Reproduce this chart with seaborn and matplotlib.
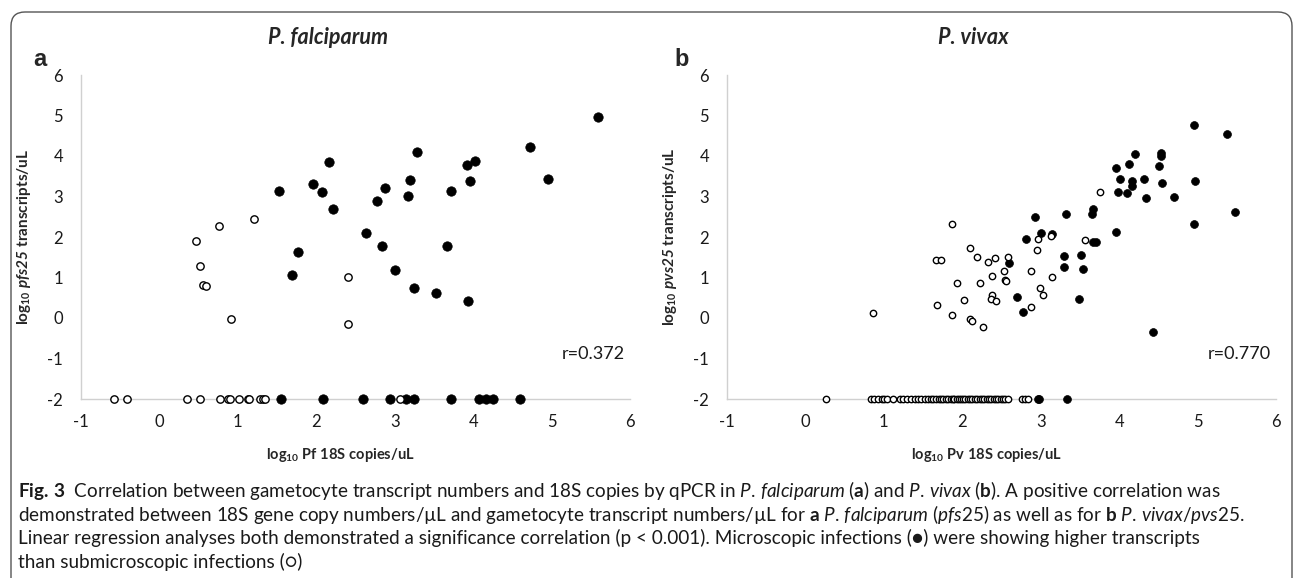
import pandas as pd
import seaborn as sns
import matplotlib.pyplot as plt
from matplotlib.patches import FancyBboxPatch

# P. falciparum - microscopic (filled) and submicroscopic (open)
pf_micro_x = [5.59, 4.73, 4.95, 3.28, 3.92, 4.02, 3.96, 3.72, 3.20, 3.17, 2.88, 2.77, 2.16,
              2.07, 2.21, 1.53, 1.96, 1.77, 1.69, 2.63, 2.84, 3.67, 3.00, 3.25, 3.53, 3.94,
              1.55, 2.08, 2.60, 2.94, 3.15, 3.25, 3.72, 4.08, 4.16, 4.25, 4.60]
pf_micro_y = [4.96, 4.22, 3.42, 4.09, 3.77, 3.88, 3.39, 3.14, 3.41, 3.02, 3.22, 2.88, 3.85,
              3.10, 2.69, 3.14, 3.31, 1.62, 1.05, 2.09, 1.79, 1.78, 1.18, 0.74, 0.61, 0.42,
              -2, -2, -2, -2, -2, -2, -2, -2, -2, -2, -2]
pf_sub_x = [1.21, 0.76, 0.47, 0.52, 0.56, 0.59, 0.91, 2.41, 2.40,
            -0.58, -0.41, 0.35, 0.52, 0.77, 0.88, 0.90, 1.02, 1.13, 1.14, 1.28, 1.32, 1.35, 3.07]
pf_sub_y = [2.45, 2.28, 1.91, 1.29, 0.81, 0.78, -0.02, 1.02, -0.15,
            -2, -2, -2, -2, -2, -2, -2, -2, -2, -2, -2, -2, -2, -2]

# P. vivax
pv_micro_x = [4.95, 5.38, 4.20, 4.53, 4.54, 4.13, 4.51, 3.96, 4.01, 4.16, 4.17, 4.32, 4.55,
              4.97, 3.98, 4.10, 4.34, 4.70, 5.48, 4.96, 3.67, 3.65, 3.96, 2.93, 3.32, 2.81,
              3.00, 3.14, 3.67, 3.70, 2.59, 3.30, 3.51, 3.30, 3.54, 2.70, 2.78, 3.49, 4.43,
              2.96, 2.98, 3.34]
pv_micro_y = [4.77, 4.54, 4.06, 4.07, 4.01, 3.80, 3.76, 3.70, 3.43, 3.38, 3.27, 3.42, 3.34,
              3.39, 3.12, 3.09, 2.97, 3.00, 2.61, 2.33, 2.68, 2.57, 2.12, 2.50, 2.58, 1.95,
              2.09, 2.07, 1.87, 1.88, 1.35, 1.53, 1.55, 1.27, 1.22, 0.51, 0.15, 0.47, -0.35,
              -2, -2, -2]
pv_sub_x = [1.87, 3.76, 2.96, 3.13, 2.95, 3.57, 2.10, 2.19, 2.33, 2.42, 2.58, 2.53, 2.88,
            3.15, 2.38, 2.22, 2.55, 2.56, 2.99, 3.03, 2.38, 2.36, 2.43, 2.02, 2.87, 2.10,
            2.12, 2.27, 1.67, 1.73, 1.93, 1.68, 1.87, 0.86,
            0.26, 0.83, 0.88, 0.93, 0.97, 1.00, 1.04, 1.12, 1.20, 1.24, 1.30, 1.35, 1.40,
            1.44, 1.47, 1.52, 1.56, 1.60, 1.63, 1.67, 1.70, 1.73, 1.76, 1.79, 1.82, 1.85,
            1.88, 1.90, 1.93, 1.96, 1.98, 2.01, 2.04, 2.07, 2.10, 2.13, 2.16, 2.19, 2.22,
            2.25, 2.28, 2.31, 2.34, 2.37, 2.40, 2.43, 2.46, 2.49, 2.52, 2.55, 2.58, 2.76,
            2.80, 2.84]
pv_sub_y = [2.33, 3.12, 1.95, 2.02, 1.68, 1.93, 1.73, 1.51, 1.39, 1.47, 1.51, 1.17, 1.17,
            1.02, 1.04, 0.86, 0.94, 0.92, 0.73, 0.57, 0.57, 0.46, 0.43, 0.44, 0.26, -0.03,
            -0.07, -0.21, 1.43, 1.43, 0.86, 0.32, 0.07, 0.12] + [-2] * 54

x_ticks = [-1, 0, 1, 2, 3, 4, 5, 6]
y_ticks = [-2, -1, 0, 1, 2, 3, 4, 5, 6]

sns.set_style("white")
plt.rcParams["font.family"] = ["Lato", "DejaVu Sans"]
plt.rcParams["axes.unicode_minus"] = False
plt.rcParams["mathtext.fontset"] = "custom"
plt.rcParams["mathtext.rm"] = "Lato"
plt.rcParams["mathtext.it"] = "Lato:italic"
plt.rcParams["mathtext.bf"] = "Lato:bold"
plt.rcParams["mathtext.bfit"] = "Lato:italic:bold"

fig = plt.figure(figsize=(12.95, 5.78), dpi=100)
ax_a = fig.add_axes([81 / 1295, 1 - 399 / 578, 549 / 1295, 324 / 578])
ax_b = fig.add_axes([727 / 1295, 1 - 399 / 578, 549 / 1295, 324 / 578])

panels = [
    (ax_a, pf_micro_x, pf_micro_y, pf_sub_x, pf_sub_y, 46, 28,
     r"$\mathbf{log_{10}}$ $\mathbfit{pfs25}$ $\mathbf{transcripts/uL}$",
     r"$\mathbf{log_{10}}$ $\mathbf{Pf}$ $\mathbf{18S}$ $\mathbf{copies/uL}$", "r=0.372"),
    (ax_b, pv_micro_x, pv_micro_y, pv_sub_x, pv_sub_y, 32, 21,
     r"$\mathbf{log_{10}}$ $\mathbfit{pvs25}$ $\mathbf{transcripts/uL}$",
     r"$\mathbf{log_{10}}$ $\mathbf{Pv}$ $\mathbf{18S}$ $\mathbf{copies/uL}$", "r=0.770"),
]

for ax, mx, my, sx, sy, s_fill, s_open, ylab, xlab, rtxt in panels:
    micro = pd.DataFrame({"x": mx, "y": my})
    sub = pd.DataFrame({"x": sx, "y": sy})
    sns.scatterplot(data=micro, x="x", y="y", ax=ax, color="black", s=s_fill,
                    edgecolor="black", linewidth=0.5, clip_on=False, zorder=3)
    sns.scatterplot(data=sub, x="x", y="y", ax=ax, color="white", s=s_open,
                    edgecolor="black", linewidth=1.0, clip_on=False, zorder=4)
    ax.set_xlim(-1, 6)
    ax.set_ylim(-2, 6)
    ax.set_xticks(x_ticks)
    ax.set_yticks(y_ticks)
    ax.tick_params(length=0, labelsize=12, colors="#1a1a1a")
    ax.tick_params(axis="y", pad=13)
    ax.tick_params(axis="x", pad=11)
    for side in ["top", "right"]:
        ax.spines[side].set_visible(False)
    for side in ["left", "bottom"]:
        ax.spines[side].set_color("#d0d0d0")
        ax.spines[side].set_linewidth(1)
    ax.set_ylabel(ylab, fontsize=11)
    ax.set_xlabel(xlab, fontsize=10.5)
    ax.yaxis.set_label_coords(-0.087, 0.5)
    ax.xaxis.set_label_coords(0.472, -0.145)
    ax.text(5.94, -0.9, rtxt, ha="right", va="center", fontsize=13, color="#1a1a1a")

fig.text(328 / 1295, 1 - 38 / 578, "P. falciparum", ha="center", va="center",
         fontsize=15.5, fontweight="bold", style="italic")
fig.text(973 / 1295, 1 - 38 / 578, "P. vivax", ha="center", va="center",
         fontsize=15.5, fontweight="bold", style="italic")
fig.text(40 / 1295, 1 - 59 / 578, "a", ha="center", va="center", fontsize=17,
         fontweight="bold", family="Liberation Sans")
fig.text(682 / 1295, 1 - 59 / 578, "b", ha="center", va="center", fontsize=17,
         fontweight="bold", family="Liberation Sans")

# caption
cap = [
    r"$\mathbf{Fig.\,3}$  Correlation between gametocyte transcript numbers and 18S copies by qPCR in "
    r"$\mathit{P.\,falciparum}$ ($\mathbf{a}$) and $\mathit{P.\,vivax}$ ($\mathbf{b}$). "
    r"A positive correlation was",
    r"demonstrated between 18S gene copy numbers/µL and gametocyte transcript numbers/µL for "
    r"$\mathbf{a}$ $\mathit{P.\,falciparum}$ ($\mathit{pfs25}$) as well as for "
    r"$\mathbf{b}$ $\mathit{P.\,vivax/pvs25}$.",
    "Linear regression analyses both demonstrated a significance correlation (p < 0.001). "
    "Microscopic infections (●) were showing higher transcripts",
    "than submicroscopic infections (○)",
]
for i, line in enumerate(cap):
    fig.text(18 / 1295, 1 - (490 + 24 * i) / 578, line, ha="left", va="center",
             fontsize=13.6, color="#1a1a1a")

border = FancyBboxPatch((11, -40), 1281, 606, boxstyle="round,pad=0,rounding_size=14",
                        transform=None, facecolor="none", edgecolor="#555555", linewidth=1)
fig.add_artist(border)

fig.savefig("out.png", dpi=100)
